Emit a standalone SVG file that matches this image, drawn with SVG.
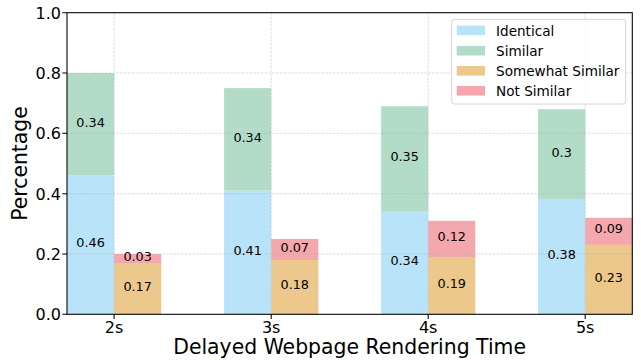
<svg xmlns="http://www.w3.org/2000/svg" width="641" height="360" viewBox="0 0 641 360">
<style>
text{font-family:"DejaVu Sans","Liberation Sans",sans-serif;fill:#000}
.tick{font-size:16px}
.lab{font-size:12.8px;text-anchor:middle}
.ax{font-size:20.4px;text-anchor:middle}
.leg{font-size:13.6px}
.grid{stroke:#b0b0b0;stroke-width:0.8;stroke-dasharray:2.6 1.2;opacity:0.55;fill:none}
.tk{stroke:#000;stroke-width:1.07}
.id{fill:#b9e3f8}
.si{fill:#b2dcc8}
.sw{fill:#edc88c}
.ns{fill:#f5a7ae}
</style>
<rect width="641" height="360" fill="#fff"/>
<g id="bars">
<g id="bar-2s">
<rect class="id" x="67" y="175.6" width="47.1" height="138.7"/>
<rect class="si" x="67" y="73" width="47.1" height="102.6"/>
<rect class="sw" x="114.1" y="263" width="47.1" height="51.3"/>
<rect class="ns" x="114.1" y="254" width="47.1" height="9"/>
</g>
<g id="bar-3s">
<rect class="id" x="224.1" y="190.6" width="47.1" height="123.7"/>
<rect class="si" x="224.1" y="88.1" width="47.1" height="102.5"/>
<rect class="sw" x="271.2" y="260" width="47.1" height="54.3"/>
<rect class="ns" x="271.2" y="238.9" width="47.1" height="21.1"/>
</g>
<g id="bar-4s">
<rect class="id" x="381.1" y="211.8" width="47.1" height="102.5"/>
<rect class="si" x="381.1" y="106.2" width="47.1" height="105.6"/>
<rect class="sw" x="428.2" y="257" width="47.1" height="57.3"/>
<rect class="ns" x="428.2" y="220.8" width="47.1" height="36.2"/>
</g>
<g id="bar-5s">
<rect class="id" x="538.1" y="199.7" width="47.1" height="114.6"/>
<rect class="si" x="538.1" y="109.2" width="47.1" height="90.5"/>
<rect class="sw" x="585.2" y="244.9" width="47.1" height="69.4"/>
<rect class="ns" x="585.2" y="217.8" width="47.1" height="27.1"/>
</g>
</g>
<g id="grid">
<path class="grid" d="M67 254H632.3M67 193.7H632.3M67 133.3H632.3M67 73H632.3M114.1 12.7V314.3M271.2 12.7V314.3M428.2 12.7V314.3M585.2 12.7V314.3"/>
</g>
<g id="values">
<text class="lab" x="90.55" y="246.9">0.46</text>
<text class="lab" x="90.55" y="126.5">0.34</text>
<text class="lab" x="137.65" y="290.7">0.17</text>
<text class="lab" x="137.65" y="260.6">0.03</text>
<text class="lab" x="247.65" y="254.5">0.41</text>
<text class="lab" x="247.65" y="141.5">0.34</text>
<text class="lab" x="294.75" y="289.2">0.18</text>
<text class="lab" x="294.75" y="251.6">0.07</text>
<text class="lab" x="404.65" y="265">0.34</text>
<text class="lab" x="404.65" y="161">0.35</text>
<text class="lab" x="451.75" y="287.6">0.19</text>
<text class="lab" x="451.75" y="240.9">0.12</text>
<text class="lab" x="561.65" y="259">0.38</text>
<text class="lab" x="561.65" y="156.5">0.3</text>
<text class="lab" x="608.75" y="281.6">0.23</text>
<text class="lab" x="608.75" y="233.4">0.09</text>
</g>
<g id="axes">
<rect x="67" y="12.7" width="565.3" height="301.6" fill="none" stroke="#000" stroke-width="1.07"/>
<path class="tk" d="M62.3 314.3H67M62.3 254H67M62.3 193.7H67M62.3 133.3H67M62.3 73H67M62.3 12.7H67M114.1 314.3V319M271.2 314.3V319M428.2 314.3V319M585.2 314.3V319"/>
<g class="tick" text-anchor="end">
<text x="61" y="320.1">0.0</text>
<text x="61" y="259.8">0.2</text>
<text x="61" y="199.5">0.4</text>
<text x="61" y="139.1">0.6</text>
<text x="61" y="78.8">0.8</text>
<text x="61" y="18.5">1.0</text>
</g>
<g class="tick" text-anchor="middle">
<text x="114.1" y="332.5">2s</text>
<text x="271.2" y="332.5">3s</text>
<text x="428.2" y="332.5">4s</text>
<text x="585.2" y="332.5">5s</text>
</g>
<text class="ax" x="349.6" y="354">Delayed Webpage Rendering Time</text>
<text class="ax" transform="translate(27 163.5) rotate(-90)">Percentage</text>
</g>
<g id="legend">
<rect x="451.7" y="19.3" width="174" height="84.7" rx="3" fill="#fff" fill-opacity="0.8" stroke="#d4d4d4" stroke-width="1"/>
<rect class="id" x="456.7" y="25.5" width="28.3" height="9.6"/>
<rect class="si" x="456.7" y="45.9" width="28.3" height="9.6"/>
<rect class="sw" x="456.7" y="66" width="28.3" height="9.6"/>
<rect class="ns" x="456.7" y="86" width="28.3" height="9.6"/>
<text class="leg" x="496" y="35.6">Identical</text>
<text class="leg" x="496" y="55.9">Similar</text>
<text class="leg" x="496" y="76">Somewhat Similar</text>
<text class="leg" x="496" y="96">Not Similar</text>
</g>
</svg>
